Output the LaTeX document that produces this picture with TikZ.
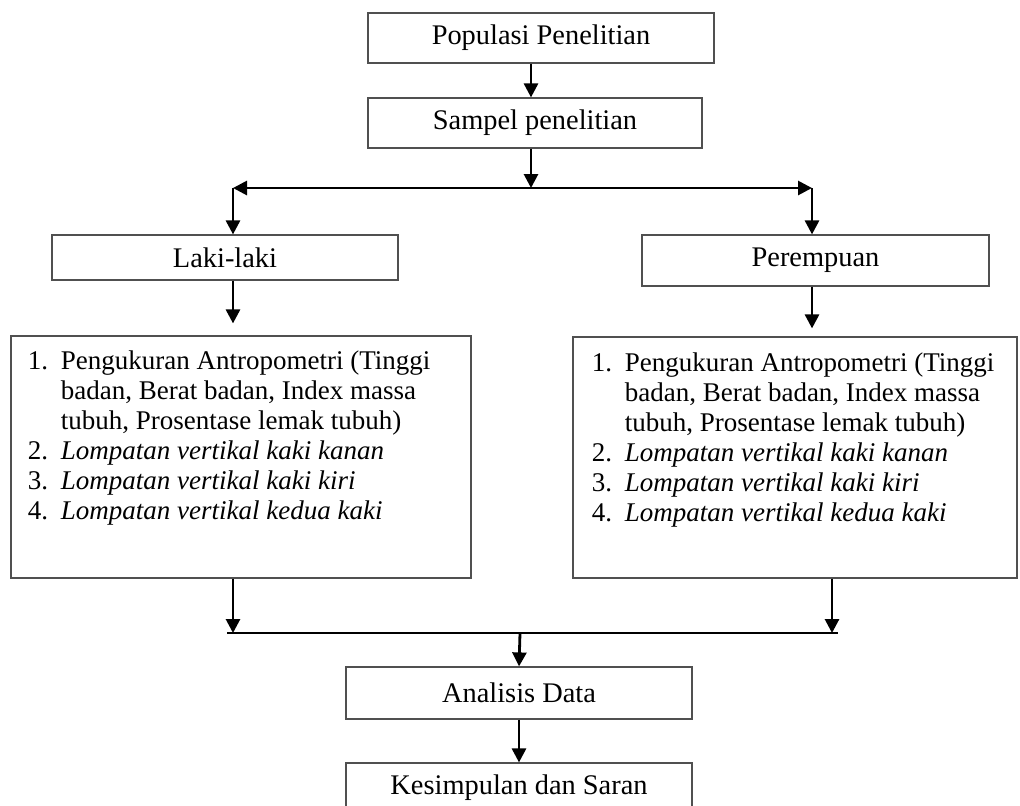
\documentclass[tikz,border=0pt]{standalone}
\usepackage{fontspec}
\setmainfont{Liberation Serif}
\usetikzlibrary{arrows.meta, positioning, calc}
\definecolor{boxline}{RGB}{80,80,80}
\tikzset{
  stage/.style={rectangle, draw=boxline, line width=0.6pt, fill=white, align=center,
                font=\fontsize{14.2}{15}\selectfont, inner sep=0pt},
  listbox/.style={rectangle, draw=boxline, line width=0.6pt, fill=white, inner sep=0pt},
  listtext/.style={anchor=north west, inner sep=0pt, font=\fontsize{13.5}{15}\selectfont},
  arr/.style={-{Triangle[length=7pt,width=7pt]}, line width=1.4pt},
  bus/.style={line width=1.4pt},
}
\newcommand{\ukurlist}{%
\begin{tabular}{@{}p{16.5pt}@{}l@{}}
1. & Pengukuran Antropometri (Tinggi\\
   & badan, Berat badan, Index massa\\
   & tubuh, Prosentase lemak tubuh)\\
2. & \textit{Lompatan vertikal kaki kanan}\\
3. & \textit{Lompatan vertikal kaki kiri}\\
4. & \textit{Lompatan vertikal kedua kaki}
\end{tabular}}

\begin{document}
\begin{tikzpicture}[x=0.5pt, y=-0.5pt]
\useasboundingbox (0,0) rectangle (1020,805);

% Populasi dan sampel
\node[stage, minimum width=173pt, minimum height=25pt] (pop) at (541,38) {Populasi Penelitian};
\node[stage, minimum width=167pt, minimum height=25pt] (samp) at (535,123) {Sampel penelitian};

% Titik cabang
\coordinate (split) at (531,188);
\coordinate (lsplit) at (233,188);
\coordinate (rsplit) at (812,188);

% Kelompok
\node[stage, minimum width=173pt, minimum height=22.5pt] (laki) at (225,257.5) {Laki-laki};
\node[stage, minimum width=173.5pt, minimum height=25.5pt] (per) at (815.5,260.5) {Perempuan};

% Pengukuran
\node[listbox, minimum width=230pt, minimum height=121pt] (lbox) at (241,457) {};
\node[listbox, minimum width=222pt, minimum height=120.5pt] (rbox) at (795,457.5) {};
\node[listtext] (ltxt) at ([xshift=8.5pt,yshift=-6.5pt]lbox.north west) {\ukurlist};
\node[listtext] (rtxt) at ([xshift=9.5pt,yshift=-7pt]rbox.north west) {\ukurlist};

% Titik gabung
\coordinate (join) at (520,633);
\coordinate (ljoin) at (233,633);
\coordinate (rjoin) at (832,633);

% Analisis dan kesimpulan
\node[stage, minimum width=173pt, minimum height=26pt] (ana) at (519,693) {Analisis Data};
\node[stage, minimum width=173pt, minimum height=25pt] (kes) at (519,788) {Kesimpulan dan Saran};

% Panah
\draw[arr] (pop.south -| split) -- (samp.north -| split);
\draw[arr] (samp.south -| split) -- (split);
\draw[arr] (split) -- (lsplit);
\draw[arr] (split) -- (rsplit);
\draw[arr] (lsplit) -- (lsplit |- laki.north);
\draw[arr] (rsplit) -- (rsplit |- per.north);
\draw[arr, shorten >=6pt] (laki.south -| lsplit) -- (lbox.north -| lsplit);
\draw[arr, shorten >=4pt] (per.south -| rsplit) -- (rbox.north -| rsplit);
\draw[arr] (lbox.south -| ljoin) -- (ljoin);
\draw[arr] (rbox.south -| rjoin) -- (rjoin);
\draw[bus] ([xshift=-3pt]ljoin) -- ([xshift=3pt]rjoin);
\draw[arr] (join) -- (ana.north);
\draw[arr] (ana.south) -- (kes.north);

\end{tikzpicture}
\end{document}
